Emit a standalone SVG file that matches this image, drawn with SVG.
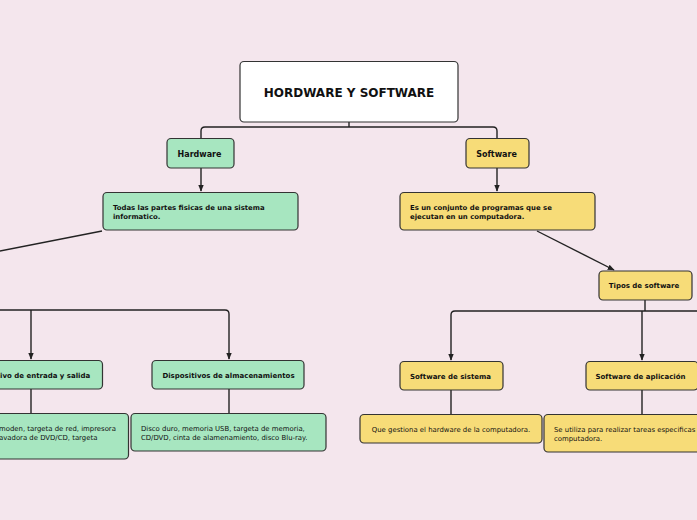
<svg xmlns="http://www.w3.org/2000/svg" width="697" height="520" viewBox="0 0 697 520">
<defs>
<marker id="arr" viewBox="0 0 10 10" refX="9" refY="5" markerWidth="5" markerHeight="5" orient="auto">
<path d="M0,1 L10,5 L0,9 z" fill="#222"/>
</marker>
<style>
.bx{stroke:#333;stroke-width:1.2}
.g{fill:#a7e6c0}
.y{fill:#f7dc78}
.w{fill:#ffffff}
.c{fill:none;stroke:#222;stroke-width:1.4}
.t{font-family:"DejaVu Sans",Verdana,sans-serif;fill:#111}
.b{font-weight:bold}
.m{text-anchor:middle}
</style>
</defs>
<rect width="697" height="520" fill="#f4e6ed"/>
<g id="connectors">
<path class="c" d="M349,122 V127"/>
<path class="c" d="M201,138 V131 Q201,127 205,127 H493 Q497,127 497,131 V138"/>
<path class="c" d="M201,168 V191" marker-end="url(#arr)"/>
<path class="c" d="M497,168 V191" marker-end="url(#arr)"/>
<path class="c" d="M102,231 L-5,252"/>
<path class="c" d="M537,231 L614,270" marker-end="url(#arr)"/>
<path class="c" d="M0,310 H225 Q229,310 229,314 V359" marker-end="url(#arr)"/>
<path class="c" d="M31,310 V359" marker-end="url(#arr)"/>
<path class="c" d="M31,389 V413"/>
<path class="c" d="M229,389 V413"/>
<path class="c" d="M645,300 V311"/>
<path class="c" d="M700,311 H455 Q451,311 451,315 V360" marker-end="url(#arr)"/>
<path class="c" d="M642,311 V360" marker-end="url(#arr)"/>
<path class="c" d="M451,390 V414"/>
<path class="c" d="M642,390 V414"/>
</g>
<g id="root">
<rect class="bx w" x="240" y="61.5" width="218" height="60.5" rx="4"/>
<text class="t b m" x="349" y="97" font-size="12">HORDWARE Y SOFTWARE</text>
</g>
<g id="hardware">
<rect class="bx g" x="167" y="138.5" width="67" height="29.5" rx="4"/>
<text class="t b m" x="199.5" y="156.5" font-size="8">Hardware</text>
</g>
<g id="software">
<rect class="bx y" x="466" y="138.5" width="63" height="29.5" rx="4"/>
<text class="t b m" x="496.5" y="156.5" font-size="8">Software</text>
</g>
<g id="hw-desc">
<rect class="bx g" x="103" y="192.5" width="195" height="37.5" rx="4"/>
<text class="t b" x="113" y="210" font-size="6.9">Todas las partes fisicas de una sistema</text>
<text class="t b" x="113" y="218.5" font-size="6.9">informatico.</text>
</g>
<g id="sw-desc">
<rect class="bx y" x="400" y="192.5" width="195" height="37.5" rx="4"/>
<text class="t b" x="410" y="210" font-size="6.9">Es un conjunto de programas que se</text>
<text class="t b" x="410" y="218.5" font-size="6.9">ejecutan en un computadora.</text>
</g>
<g id="tipos">
<rect class="bx y" x="599" y="271" width="93" height="29" rx="4"/>
<text class="t b m" x="644" y="288" font-size="7">Tipos de software</text>
</g>
<g id="entrada-salida">
<rect class="bx g" x="-41" y="360.5" width="143.5" height="28.5" rx="4"/>
<text class="t b" x="0" y="377.5" font-size="7">ivo de entrada y salida</text>
</g>
<g id="almacenamiento">
<rect class="bx g" x="152" y="360.5" width="152" height="28.5" rx="4"/>
<text class="t b m" x="228.5" y="377.5" font-size="7">Dispositivos de almacenamientos</text>
</g>
<g id="entrada-salida-desc">
<rect class="bx g" x="-68" y="413.5" width="196.5" height="45.5" rx="4"/>
<text class="t" x="-1" y="431" font-size="6.9">moden, targeta de red, impresora</text>
<text class="t" x="-1" y="439.5" font-size="6.9">avadora de DVD/CD, targeta</text>
</g>
<g id="almacenamiento-desc">
<rect class="bx g" x="131" y="413.5" width="195" height="37.5" rx="4"/>
<text class="t" x="141" y="431" font-size="6.9">Disco duro, memoria USB, targeta de memoria,</text>
<text class="t" x="141" y="439.5" font-size="6.9">CD/DVD, cinta de alamenamiento, disco Blu-ray.</text>
</g>
<g id="sw-sistema">
<rect class="bx y" x="400" y="361.5" width="103" height="28.5" rx="4"/>
<text class="t b m" x="450.5" y="378.5" font-size="7">Software de sistema</text>
</g>
<g id="sw-aplicacion">
<rect class="bx y" x="586" y="361.5" width="112" height="28.5" rx="4"/>
<text class="t b m" x="640.5" y="378.5" font-size="7">Software de aplicación</text>
</g>
<g id="sw-sistema-desc">
<rect class="bx y" x="360" y="414.5" width="182" height="28.5" rx="4"/>
<text class="t m" x="451" y="431.5" font-size="6.9">Que gestiona el hardware de la computadora.</text>
</g>
<g id="sw-aplicacion-desc">
<rect class="bx y" x="544" y="414.5" width="160" height="37.5" rx="4"/>
<text class="t" x="554" y="432" font-size="6.9">Se utiliza para realizar tareas especificas</text>
<text class="t" x="554" y="440.5" font-size="6.9">computadora.</text>
</g>
</svg>
